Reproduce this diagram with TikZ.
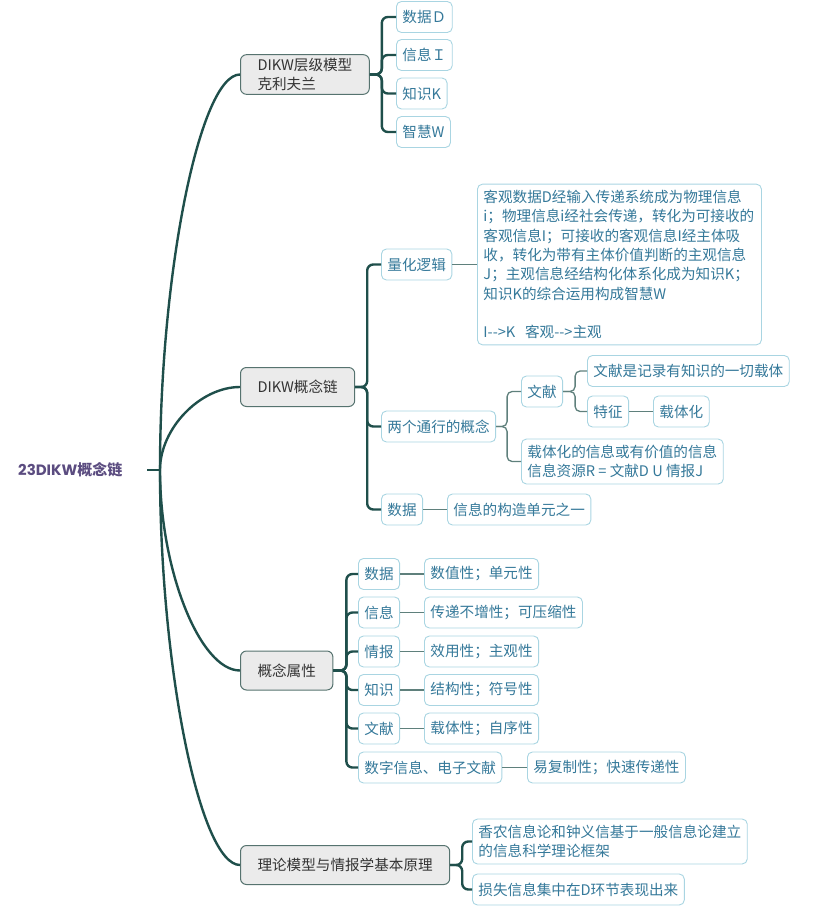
\documentclass[tikz,border=0pt]{standalone}
\usepackage{fontspec}
\newfontfamily\cjk{Noto Sans CJK SC}
\newfontfamily\geo{Poppins}
\usetikzlibrary{calc}
\definecolor{cTrunk}{HTML}{1F4F4B}
\definecolor{cTwig}{HTML}{5F807C}
\definecolor{cTopicFill}{HTML}{EBEBEB}
\definecolor{cTopicLine}{HTML}{56736F}
\definecolor{cLeafLine}{HTML}{A9D5E2}
\definecolor{cLeafText}{HTML}{35799A}
\definecolor{cRoot}{HTML}{5B4C80}

\begin{document}
\begin{tikzpicture}[x=1pt,y=-1pt,
  topic/.style={draw=cTopicLine,fill=cTopicFill,rounded corners=6pt,line width=1pt,
    font=\cjk\fontsize{14.6}{19.5}\selectfont,text=black!80,align=left,
    inner xsep=17pt,minimum height=39pt,anchor=west},
  leaf/.style={draw=cLeafLine,fill=white,rounded corners=5pt,line width=0.9pt,
    font=\cjk\fontsize{14.6}{19.3}\selectfont,text=cLeafText,align=left,
    inner xsep=6pt,inner ysep=6pt,minimum height=31pt,anchor=west},
  branch/.style={draw=cTrunk,line width=2.4pt,rounded corners=6pt},
  twigline/.style={draw=cTwig,line width=1.3pt,rounded corners=5pt}]
  \useasboundingbox (0,0) rectangle (822,916);

  \node[font=\bfseries\fontsize{15}{17}\selectfont,text=cRoot,anchor=west,inner sep=0pt]
    (root) at (18,470) {{\geo 23DIKW}{\cjk 概念链}};
  \coordinate (stub) at (147,470);
  \coordinate (hub) at (160,470);

  \node[topic] (dikw) at (240,74.5) {DIKW层级模型\\克利夫兰};
  \node[topic] (chain) at (240,387) {DIKW概念链};
  \node[topic] (attr) at (240,670.5) {概念属性};
  \node[topic] (theory) at (240,865) {理论模型与情报学基本原理};

  \node[leaf] (data) at (396,17) {数据Ｄ};
  \node[leaf] (info) at (396,55) {信息Ｉ};
  \node[leaf] (know) at (396,93.5) {知识K};
  \node[leaf] (wis) at (396,132) {智慧W};

  \node[leaf] (logic) at (381,264.5) {量化逻辑};
  \node[leaf,text width=272pt] (logictext) at (477,264.5) {客观数据D经输入传递系统成为物理信息\\
    i；物理信息i经社会传递，转化为可接收的\\客观信息I；可接收的客观信息I经主体吸\\
    收，转化为带有主体价值判断的主观信息\\J；主观信息经结构化体系化成为知识K；\\
    知识K的综合运用构成智慧W\\ \mbox{}\\I-{}-{}>K\ \ 客观-{}-{}>主观};
  \node[leaf] (concepts) at (381,426.5) {两个通行的概念};
  \node[leaf] (docs) at (521,391.5) {文献};
  \node[leaf] (docsdef) at (587,371) {文献是记录有知识的一切载体};
  \node[leaf] (feature) at (587,411.5) {特征};
  \node[leaf] (carrier) at (653,411.5) {载体化};
  \node[leaf] (resource) at (521,461.5) {载体化的信息或有价值的信息\\信息资源R = 文献D U 情报J};
  \node[leaf] (datum) at (381,509.5) {数据};
  \node[leaf] (datumdef) at (447,509.5) {信息的构造单元之一};

  \node[leaf] (pData) at (358,574) {数据};
  \node[leaf] (pDataV) at (424,574) {数值性；单元性};
  \node[leaf] (pInfo) at (358,612.5) {信息};
  \node[leaf] (pInfoV) at (424,612.5) {传递不增性；可压缩性};
  \node[leaf] (pIntel) at (358,651.5) {情报};
  \node[leaf] (pIntelV) at (424,651.5) {效用性；主观性};
  \node[leaf] (pKnow) at (358,690) {知识};
  \node[leaf] (pKnowV) at (424,690) {结构性；符号性};
  \node[leaf] (pDoc) at (358,728.5) {文献};
  \node[leaf] (pDocV) at (424,728.5) {载体性；自序性};
  \node[leaf] (pDigi) at (358,767.5) {数字信息、电子文献};
  \node[leaf] (pDigiV) at (527,767.5) {易复制性；快速传递性};

  \node[leaf] (shannon) at (472,841.5) {香农信息论和钟义信基于一般信息论建立\\的信息科学理论框架};
  \node[leaf] (loss) at (472,889.5) {损失信息集中在D环节表现出来};

  \draw[branch] (stub) -- (hub);
  \foreach \t in {dikw,chain,attr,theory}
    \draw[branch] (hub) .. controls ($(hub)!0.5!(hub|-\t.west)$) and ($(\t.west)+(-40,0)$) .. (\t.west);

  \foreach \c in {data,info,know,wis}
    \draw[branch] (dikw.east) -- ++(12,0) |- (\c.west);
  \foreach \c in {logic,concepts,datum}
    \draw[branch] (chain.east) -- ++(12,0) |- (\c.west);
  \foreach \c in {pData,pInfo,pIntel,pKnow,pDoc,pDigi}
    \draw[branch] (attr.east) -- ++(13,0) |- (\c.west);
  \foreach \c in {shannon,loss}
    \draw[branch] (theory.east) -- ++(12,0) |- (\c.west);

  \foreach \c in {docs,resource}
    \draw[twigline] (concepts.east) -- ++(11,0) |- (\c.west);
  \foreach \c in {docsdef,feature}
    \draw[twigline] (docs.east) -- ++(12,0) |- (\c.west);
  \draw[twigline] (logic) -- (logictext);
  \draw[twigline] (feature) -- (carrier);
  \draw[twigline] (datum) -- (datumdef);
  \foreach \a in {pData,pInfo,pIntel,pKnow,pDoc,pDigi}
    \draw[twigline] (\a) -- (\a V);
\end{tikzpicture}
\end{document}
